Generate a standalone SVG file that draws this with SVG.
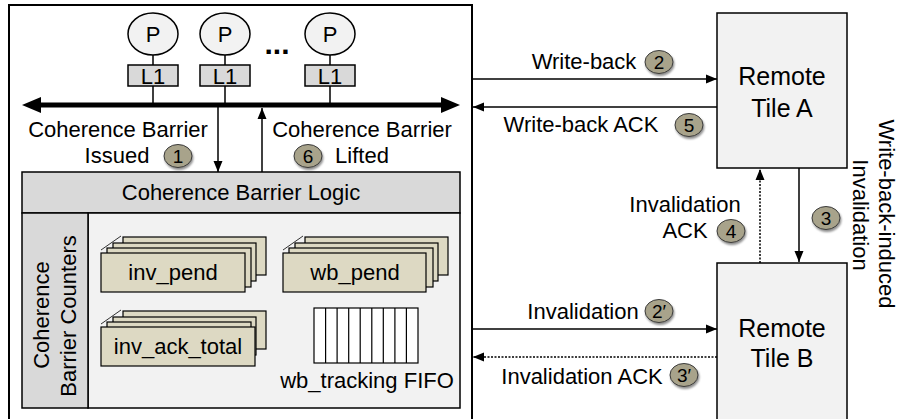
<svg xmlns="http://www.w3.org/2000/svg" width="898" height="419" viewBox="0 0 898 419">
<defs>
<style>
text{font-family:"Liberation Sans",Arial,sans-serif;fill:#000;}
.t{font-size:22px;}
.tb{font-size:25px;}
.n{font-size:19px;text-anchor:middle;}
.mid{text-anchor:middle;}
.ln{stroke:#000;stroke-width:1.5;fill:none;}
.dot{stroke:#000;stroke-width:1.5;fill:none;stroke-dasharray:2 1.5;}
.stk{fill:#ddd9c3;stroke:#000;stroke-width:1.2;}
.badge{fill:#a8a38b;stroke:#3a3a3a;stroke-width:1;filter:url(#sh);}
.gray{fill:#d9d9d9;stroke:#000;stroke-width:1.5;}
.light{fill:#f2f2f2;stroke:#000;stroke-width:1.5;}
</style>
<filter id="sh" x="-30%" y="-30%" width="170%" height="180%">
<feDropShadow dx="1" dy="2" stdDeviation="1.2" flood-color="#000" flood-opacity="0.45"/>
</filter>
<marker id="ah" markerUnits="userSpaceOnUse" markerWidth="12" markerHeight="10" refX="11" refY="5" orient="auto">
<path d="M0,0.5 L11,5 L0,9.5 z" fill="#000"/>
</marker>
</defs>
<rect width="898" height="419" fill="#fff"/>

<g id="tile">
<rect x="9" y="5" width="463" height="425" fill="#fff" stroke="#000" stroke-width="2"/>
</g>

<g id="cores">
<g id="core1"><ellipse cx="153" cy="34" rx="25" ry="21" class="light"/><text x="153" y="42" class="t mid">P</text>
<rect x="128" y="65" width="50" height="21" class="gray"/><text x="153" y="84" class="t mid">L1</text></g>
<g id="core2"><ellipse cx="225" cy="34" rx="25" ry="21" class="light"/><text x="225" y="42" class="t mid">P</text>
<rect x="200" y="65" width="50" height="21" class="gray"/><text x="225" y="84" class="t mid">L1</text></g>
<g id="core3"><ellipse cx="330" cy="34" rx="25" ry="21" class="light"/><text x="330" y="42" class="t mid">P</text>
<rect x="305" y="65" width="50" height="21" class="gray"/><text x="330" y="84" class="t mid">L1</text></g>
<text x="277" y="54" class="mid" style="font-size:30px;font-weight:bold">...</text>
</g>

<g id="logic">
<rect x="22" y="172" width="438" height="41" class="gray"/>
<text x="241" y="200" class="t mid">Coherence Barrier Logic</text>
<rect x="88" y="213" width="372" height="195" class="light"/>
<rect x="22" y="213" width="66" height="195" class="gray"/>
<text transform="rotate(-90 49 315)" x="49" y="315" class="t mid">Coherence</text>
<text transform="rotate(-90 76 316)" x="76" y="316" class="t mid">Barrier Counters</text>
</g>

<g id="inv_pend">
<line x1="101" y1="250" x2="121" y2="236" stroke="#000" stroke-width="0.8"/>
<rect x="123" y="237" width="143" height="38" class="stk"/>
<rect x="113" y="243" width="143" height="38" class="stk"/>
<rect x="107" y="248" width="144" height="39" class="stk"/>
<rect x="101" y="253" width="144" height="39" class="stk"/>
<text x="173" y="280" class="t mid">inv_pend</text>
</g>

<g id="wb_pend">
<line x1="283" y1="250" x2="303" y2="236" stroke="#000" stroke-width="0.8"/>
<rect x="305" y="237" width="143" height="38" class="stk"/>
<rect x="295" y="243" width="143" height="38" class="stk"/>
<rect x="289" y="248" width="144" height="39" class="stk"/>
<rect x="283" y="253" width="143" height="39" class="stk"/>
<text x="355" y="280" class="t mid">wb_pend</text>
</g>

<g id="inv_ack_total">
<line x1="101" y1="324" x2="121" y2="310" stroke="#000" stroke-width="0.8"/>
<rect x="123" y="311" width="143" height="38" class="stk"/>
<rect x="113" y="317" width="143" height="38" class="stk"/>
<rect x="107" y="322" width="144" height="39" class="stk"/>
<rect x="101" y="327" width="154" height="39" class="stk"/>
<text x="178" y="354" class="t mid">inv_ack_total</text>
</g>

<g id="wb_fifo">
<rect x="314" y="308" width="104" height="55" fill="#fff" stroke="#000" stroke-width="1.2"/>
<path d="M325.6,308V363M337.1,308V363M348.7,308V363M360.2,308V363M371.8,308V363M383.3,308V363M394.9,308V363M406.4,308V363" stroke="#000" stroke-width="1.2"/>
<text x="367" y="388" class="t mid">wb_tracking FIFO</text>
</g>

<g id="tileA">
<rect x="717" y="13" width="130" height="155" class="light"/>
<text x="782" y="85" class="tb mid">Remote</text>
<text x="782" y="117" class="tb mid">Tile A</text>
</g>

<g id="tileB">
<rect x="717" y="263" width="130" height="170" class="light"/>
<text x="782" y="337" class="tb mid">Remote</text>
<text x="782" y="367" class="tb mid">Tile B</text>
</g>

<g id="connectors">
<line x1="38" y1="105" x2="444" y2="105" stroke="#000" stroke-width="5"/>
<polygon points="22,105 41,97 41,113" fill="#000"/>
<polygon points="460,105 441,97 441,113" fill="#000"/>
<path d="M153,55V65M153,86V105M225,55V65M225,86V105M330,55V65M330,86V105" class="ln" stroke-width="1.2"/>
<line x1="218" y1="107" x2="218" y2="172" class="ln" marker-end="url(#ah)"/>
<line x1="262" y1="172" x2="262" y2="108" class="ln" marker-end="url(#ah)"/>
<line x1="472" y1="79" x2="717" y2="79" class="ln" marker-end="url(#ah)"/>
<line x1="717" y1="107" x2="473" y2="107" class="ln" marker-end="url(#ah)"/>
<line x1="472" y1="329" x2="717" y2="329" class="ln" marker-end="url(#ah)"/>
<line x1="717" y1="357" x2="473" y2="357" class="dot" marker-end="url(#ah)"/>
<line x1="760" y1="263" x2="760" y2="169" class="dot" marker-end="url(#ah)"/>
<line x1="799" y1="168" x2="799" y2="262" class="ln" marker-end="url(#ah)"/>
</g>

<g id="labels">
<text x="118" y="137" class="t mid">Coherence Barrier</text>
<text x="117" y="163" class="t mid">Issued</text>
<text x="362" y="137" class="t mid">Coherence Barrier</text>
<text x="362" y="163" class="t mid">Lifted</text>
<text x="584" y="69" class="t mid">Write-back</text>
<text x="581" y="132" class="t mid">Write-back ACK</text>
<text x="685" y="212" class="t mid">Invalidation</text>
<text x="685" y="238" class="t mid">ACK</text>
<text x="583" y="319" class="t mid">Invalidation</text>
<text x="582" y="384" class="t mid">Invalidation ACK</text>
<text transform="rotate(90 879 214)" x="879" y="214" class="t mid">Write-back-induced</text>
<text transform="rotate(90 853 215)" x="853" y="215" class="t mid">Invalidation</text>
</g>

<g id="badges">
<g id="b1"><ellipse cx="178" cy="156" rx="14" ry="11.5" class="badge"/><text x="178" y="163" class="n">1</text></g>
<g id="b6"><ellipse cx="308" cy="156" rx="14" ry="11.5" class="badge"/><text x="308" y="163" class="n">6</text></g>
<g id="b2"><ellipse cx="659" cy="62" rx="14" ry="11.5" class="badge"/><text x="659" y="69" class="n">2</text></g>
<g id="b5"><ellipse cx="689" cy="125" rx="14" ry="11.5" class="badge"/><text x="689" y="132" class="n">5</text></g>
<g id="b4"><ellipse cx="731" cy="231" rx="14" ry="11.5" class="badge"/><text x="731" y="238" class="n">4</text></g>
<g id="b3"><ellipse cx="826" cy="218" rx="14" ry="11.5" class="badge"/><text x="826" y="225" class="n">3</text></g>
<g id="b2p"><ellipse cx="659" cy="311" rx="14" ry="11.5" class="badge"/><text x="659" y="318" class="n">2′</text></g>
<g id="b3p"><ellipse cx="684" cy="375" rx="14" ry="11.5" class="badge"/><text x="684" y="382" class="n">3′</text></g>
</g>
</svg>
